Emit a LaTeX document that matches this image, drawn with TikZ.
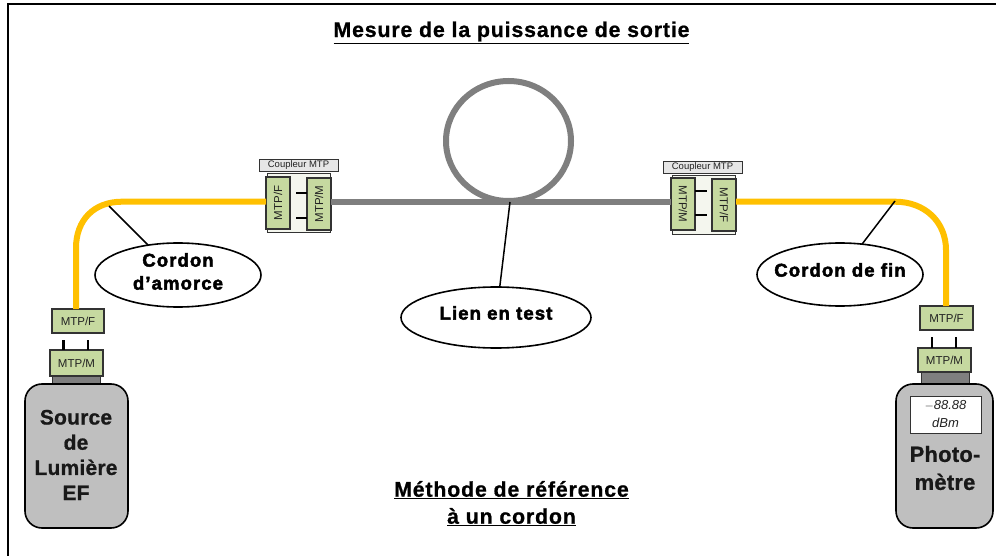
\documentclass[tikz,border=0pt]{standalone}
\usepackage{fontspec}
\setmainfont{Liberation Sans}
\newfontfamily\calloutfont[BoldFeatures={LetterSpace=6,FakeBold=2.5}]{Liberation Sans}
\newfontfamily\headfont[BoldFeatures={LetterSpace=4,FakeBold=0.8}]{Liberation Sans}
\newfontfamily\devfont[BoldFeatures={LetterSpace=1,FakeBold=0.8}]{Liberation Sans}
\usetikzlibrary{shapes.geometric}
\definecolor{connfill}{HTML}{C6D9A0}
\definecolor{fibre}{HTML}{FFC000}
\definecolor{linkgrey}{HTML}{7F7F7F}
\definecolor{bodygrey}{HTML}{BFBFBF}
\definecolor{capgrey}{HTML}{7F7F7F}
\definecolor{coupfill}{HTML}{F4F6EE}
\definecolor{labfill}{HTML}{E6E6E6}
\definecolor{txt}{HTML}{222222}
\tikzset{
  pixbox/.style={minimum width=0pt,minimum height=0pt,inner sep=0pt,outer sep=0pt,anchor=north west},
  conn/.style={pixbox,draw=black!80,line width=1.2pt,fill=connfill,font=\fontsize{11.5}{12}\selectfont,text=txt},
  connrot/.style={conn,anchor=center,minimum width=52pt,minimum height=24pt,line width=1.5pt},
  fibreline/.style={draw=fibre,line width=6pt},
  linkline/.style={draw=linkgrey,line width=6pt},
  pin/.style={draw=black,line width=2.2pt},
  leader/.style={draw=black,line width=1.5pt},
  callout/.style={ellipse,draw=black,line width=1.6pt,fill=white,inner sep=0pt,outer sep=0pt},
  callouttext/.style={font=\calloutfont\fontsize{18.5}{23}\selectfont\bfseries,align=center,inner sep=0pt},
  devbody/.style={pixbox,draw=black,line width=1.6pt,fill=bodygrey,rounded corners=17pt},
  devtext/.style={font=\devfont\fontsize{21}{25.2}\selectfont\bfseries,align=center,inner sep=0pt,text=black!90},
  pmtext/.style={font=\devfont\fontsize{22}{28}\selectfont\bfseries,align=center,inner sep=0pt,text=black!90},
  headtext/.style={font=\headfont\fontsize{21.3}{27}\selectfont\bfseries,align=center,inner sep=0pt},
  couplab/.style={pixbox,draw=black!80,line width=.8pt,fill=labfill,font=\fontsize{9.5}{10}\selectfont,text=txt},
  coupbox/.style={pixbox,draw=black!80,line width=.8pt,fill=coupfill},
  capbox/.style={pixbox,draw=black!80,line width=1pt,fill=capgrey},
}
\begin{document}
\begin{tikzpicture}[x=1pt,y=-1pt]
\useasboundingbox (0,0) rectangle (996,556);
\coordinate (fl) at (8,556); \coordinate (fc) at (8,4.5); \coordinate (fr) at (996,4.5);
\draw[black,line width=2pt] (fl) -- (fc) -- (fr);
\node[headtext] (title) at (511.5,32.5) {\underline{Mesure de la puissance de sortie}};
\node[headtext] (method) at (511.5,503.5) {\underline{Méthode de référence}\\\underline{à un cordon}};
% devices
\node[capbox,minimum width=48pt,minimum height=9pt] (lcap) at (52,376) {};
\node[devbody,minimum width=103pt,minimum height=144pt] (src) at (25,384) {};
\node[devtext] (srct) at (76,455) {Source\\de\\Lumière\\EF};
\node[capbox,minimum width=48pt,minimum height=12pt] (rcap) at (921,372) {};
\node[devbody,minimum width=97pt,minimum height=144pt] (pm) at (896,384) {};
\node[pixbox,draw=black!80,line width=1pt,fill=white,minimum width=71pt,minimum height=37pt] (disp) at (910,396) {};
\node[font=\itshape\fontsize{13}{18}\selectfont,align=center,text=txt,inner sep=0pt] (dispt) at (disp.center) {$-$88.88\\dBm};
\node[pmtext] (pmt) at (945,468) {Photo-\\mètre};
% connectors at the devices
\node[conn,minimum width=52pt,minimum height=24pt] (lf) at (52,309) {MTP/F};
\node[conn,minimum width=53pt,minimum height=26pt] (lm) at (50,350) {MTP/M};
\node[conn,minimum width=53pt,minimum height=24pt] (rf) at (920,306) {MTP/F};
\node[conn,minimum width=53pt,minimum height=24pt] (rm) at (918,348) {MTP/M};
\draw[pin] (63.5,340) -- (63.5,350) (88,340) -- (88,350);
\draw[pin] (932,337) -- (932,348) (956,337) -- (956,348);
% couplers
\node[coupbox,minimum width=63pt,minimum height=59pt] (cl) at (267,173) {};
\node[couplab,minimum width=79pt,minimum height=12pt] (cll) at (259,159) {Coupleur MTP};
\node[connrot,rotate=90] (clf) at (278,203) {MTP/F};
\node[connrot,rotate=90] (clm) at (319,204) {MTP/M};
\draw[pin] (296,193) -- (307,193) (296,218) -- (307,218);
\node[coupbox,minimum width=63pt,minimum height=59pt] (cr) at (672,175) {};
\node[couplab,minimum width=79pt,minimum height=12pt] (crl) at (663,161) {Coupleur MTP};
\node[connrot,rotate=-90] (crm) at (683,204) {MTP/M};
\node[connrot,rotate=-90] (crf) at (724,205) {MTP/F};
\draw[pin] (695,191) -- (707,191) (695,215) -- (707,215);
% fibres
\coordinate (h) at (0,201.7);
\coordinate (lv) at (76,0); \coordinate (rv) at (946,0);
\draw[fibreline] (lv |- lf.north) -- (76,248) .. controls (76,220) and (94,201.7) .. (122,201.7) -- (clf.north |- h);
\draw[fibreline] (crf.north |- h) -- (895,201.7) .. controls (925,201.7) and (946,222) .. (946,250) -- (rv |- rf.north);
\draw[linkline] (clm.south |- h) -- (crm.south |- h);
\node[ellipse,draw=linkgrey,line width=6pt,minimum width=125pt,minimum height=120pt,inner sep=0pt] (loop) at (508.5,141) {};
% callouts
\node[callout,minimum width=166pt,minimum height=64pt] (c1) at (178,275) {};
\node[callouttext] (c1t) at (178,271.5) {Cordon\\d’amorce};
\node[callout,minimum width=190pt,minimum height=61pt] (c2) at (496,317.5) {};
\node[callouttext] (c2t) at (496,313) {Lien en test};
\node[callout,minimum width=166pt,minimum height=63pt] (c3) at (840,274.5) {};
\node[callouttext] (c3t) at (840,270) {Cordon de fin};
\coordinate (a1) at (109,206); \coordinate (a2) at (510,202); \coordinate (a3) at (895,201);
\draw[leader] (a1) -- (c1.135);
\draw[leader] (a2) -- (c2.83);
\draw[leader] (a3) -- (c3.54);
\end{tikzpicture}
\end{document}
